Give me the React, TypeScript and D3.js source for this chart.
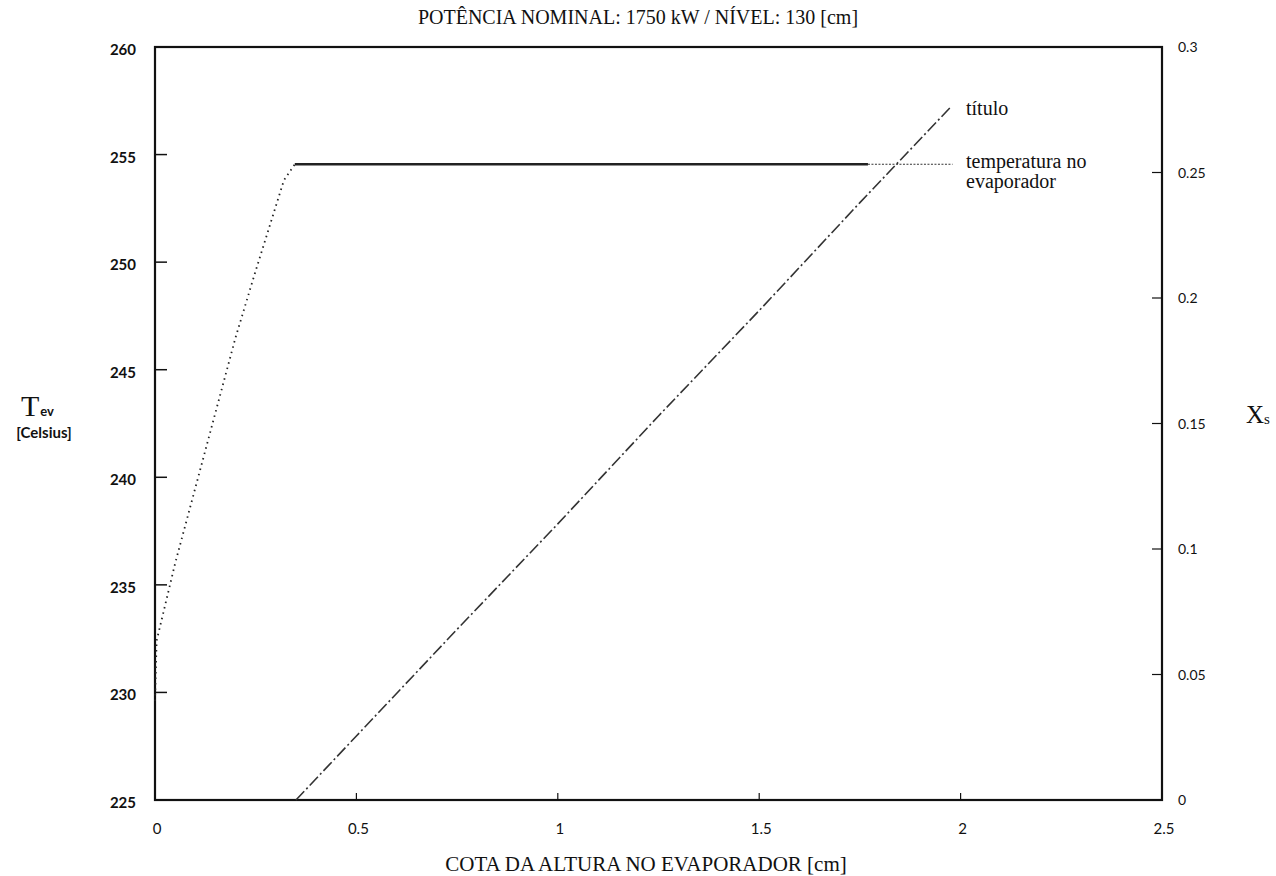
import React from 'react';
import * as d3 from 'd3';

// cota (cm) vs temperatura no evaporador (Celsius)
const tempCota = [0, 0.004, 0.05, 0.1, 0.15, 0.2, 0.25, 0.29, 0.32, 0.347, 0.6, 1.0, 1.5, 1.77];
const tempValues = [229.6, 232.4, 236.0, 239.5, 243.0, 246.5, 249.6, 252.0, 253.8, 254.55, 254.55, 254.55, 254.55, 254.55];
// thin leader continuation of the temperature line
const tempLeaderCota = [1.77, 1.98];
const tempLeaderValues = [254.55, 254.55];

// cota (cm) vs titulo Xs
const tituloCota = [0.35, 0.5, 0.75, 1.0, 1.25, 1.5, 1.75, 1.975];
const tituloValues = [0, 0.0255, 0.068, 0.11, 0.153, 0.195, 0.238, 0.276];

const xTicks = [0, 0.5, 1, 1.5, 2, 2.5];
const xTickLabels = ['0', '0.5', '1', '1.5', '2', '2.5'];
const leftTicks = [225, 230, 235, 240, 245, 250, 255, 260];
const rightTicks = [0, 0.05, 0.1, 0.15, 0.2, 0.25, 0.3];
const rightTickLabels = ['0', '0.05', '0.1', '0.15', '0.2', '0.25', '0.3'];

const SERIF = '"Liberation Serif", "DejaVu Serif", serif';
const SANS = 'Lato, "Open Sans", sans-serif';

const App = () => {
    const margin = { left: 155, right: 1162, top: 47, bottom: 800 };

    const x = d3.scaleLinear().domain([0, 2.5]).range([margin.left, margin.right]);
    const yT = d3.scaleLinear().domain([225, 260]).range([margin.bottom, margin.top]);
    const yX = d3.scaleLinear().domain([0, 0.3]).range([margin.bottom, margin.top]);

    const tempLine = d3.line<number>().x((d, i) => x(tempCota[i])).y(d => yT(d));
    const leaderLine = d3.line<number>().x((d, i) => x(tempLeaderCota[i])).y(d => yT(d));
    const tituloLine = d3.line<number>().x((d, i) => x(tituloCota[i])).y(d => yX(d));

    // split temp line: rising (dotted) part and flat (solid) part
    const riseEnd = 10;
    const risePath = tempLine(tempValues.slice(0, riseEnd));
    const flatPath = d3.line<number>()
        .x((d, i) => x(tempCota[i + riseEnd - 1]))
        .y(d => yT(d))(tempValues.slice(riseEnd - 1));

    return (
        <svg width={1276} height={876} style={{ display: 'block', position: 'absolute', left: 0, top: 0, background: '#fff' }} fontFamily={SERIF}>
            {/* title */}
            <text x={638} y={24} textAnchor="middle" fontSize={20} fill="#111">POTÊNCIA NOMINAL: 1750 kW / NÍVEL: 130 [cm]</text>

            {/* frame */}
            <rect x={margin.left} y={margin.top} width={margin.right - margin.left} height={margin.bottom - margin.top}
                fill="none" stroke="#111" strokeWidth={2.2} />

            {/* x ticks */}
            {xTicks.map((t, i) => (
                <g key={'x' + t}>
                    <line x1={x(t)} x2={x(t)} y1={margin.bottom} y2={margin.bottom - 7} stroke="#111" strokeWidth={1.2} />
                    <text x={x(t) + 2} y={834} textAnchor="middle" fontSize={15} fontFamily={SANS} fill="#111">{xTickLabels[i]}</text>
                </g>
            ))}

            {/* left ticks */}
            {leftTicks.map(t => (
                <g key={'l' + t}>
                    <line x1={margin.left} x2={margin.left + 12} y1={yT(t)} y2={yT(t)} stroke="#111" strokeWidth={1.5} />
                    <text x={margin.left - 19} y={yT(t) + 8} textAnchor="end" fontSize={15} fontWeight={700} fontFamily={SANS} fill="#111">{t}</text>
                </g>
            ))}

            {/* right ticks */}
            {rightTicks.map((t, i) => (
                <g key={'r' + t}>
                    <line x1={margin.right - 10} x2={margin.right} y1={yX(t)} y2={yX(t)} stroke="#111" strokeWidth={1.2} />
                    <text x={margin.right + 16} y={yX(t) + 5} textAnchor="start" fontSize={14} fontFamily={SANS} fill="#111">{rightTickLabels[i]}</text>
                </g>
            ))}

            {/* temperature line */}
            <path d={risePath || ''} fill="none" stroke="#222" strokeWidth={1.8} strokeDasharray="1.5 4" />
            <path d={flatPath || ''} fill="none" stroke="#222" strokeWidth={2.5} />
            <path d={leaderLine(tempLeaderValues) || ''} fill="none" stroke="#333" strokeWidth={1} strokeDasharray="2 1.5" />

            {/* titulo line */}
            <path d={tituloLine(tituloValues) || ''} fill="none" stroke="#333" strokeWidth={1.6} strokeDasharray="12 3 2 3" />

            {/* series labels */}
            <text x={966} y={115} fontSize={20} fill="#111">título</text>
            <text x={966} y={168} fontSize={20} fill="#111">temperatura no</text>
            <text x={966} y={188} fontSize={20} fill="#111">evaporador</text>

            {/* axis titles */}
            <text x={646} y={871} textAnchor="middle" fontSize={21} fill="#111">COTA DA ALTURA NO EVAPORADOR  [cm]</text>
            <text x={21} y={416} fontSize={30} fill="#111">T<tspan fontSize={13} fontWeight={700} fontFamily={SANS} dx={1}>ev</tspan></text>
            <text x={44} y={438} textAnchor="middle" fontSize={15} fontWeight={700} fontFamily={SANS} fill="#111">[Celsius]</text>
            <text x={1246} y={423} fontSize={25} fill="#111">X<tspan fontSize={15} dy={1}>s</tspan></text>
        </svg>
    );
};

export default App;
